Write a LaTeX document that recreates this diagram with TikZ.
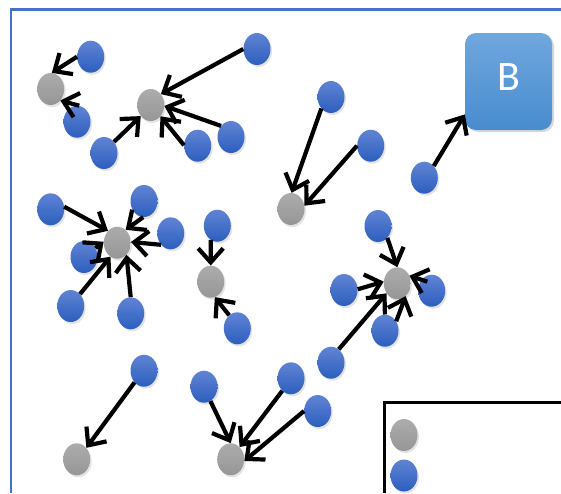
\documentclass[tikz,border=0pt]{standalone}
\usepackage{fontspec}
\setmainfont{Carlito}
\usetikzlibrary{shapes.geometric,arrows.meta,shadows}
\definecolor{frameblue}{RGB}{68,114,196}
\definecolor{bluetop}{RGB}{96,132,212}
\definecolor{bluebot}{RGB}{44,94,190}
\definecolor{greytop}{RGB}{172,172,172}
\definecolor{greybot}{RGB}{150,150,150}
\definecolor{boxtop}{RGB}{112,167,222}
\definecolor{boxbot}{RGB}{72,140,206}
\begin{document}
\begin{tikzpicture}[x=1pt,y=-1pt,
  dot/.style={ellipse,minimum width=27pt,minimum height=32pt,inner sep=0pt,
    drop shadow={shadow xshift=1.5pt,shadow yshift=-2pt,opacity=0.22}},
  bnode/.style={dot,top color=bluetop,bottom color=bluebot},
  gnode/.style={dot,top color=greytop,bottom color=greybot},
  bbox/.style={rectangle,rounded corners=11pt,minimum width=87pt,minimum height=97pt,
    inner sep=0pt,top color=boxtop,bottom color=boxbot,
    drop shadow={shadow xshift=2pt,shadow yshift=-2pt,opacity=0.3}},
  arr/.style={line width=4.2pt,-{Straight Barb[length=14pt,width=25pt]}},
]
\useasboundingbox (0,0) rectangle (561,493);
% frame
\draw[frameblue,line width=2.6pt] (11,493) -- (11,9.2) -- (561,9.2);
% legend box
\draw[black,line width=2.6pt] (384.3,493) -- (384.3,402.3) -- (561,402.3);

% grey nodes
\node[gnode] (g1) at (50.7,89) {};
\node[gnode] (g2) at (150.7,105) {};
\node[gnode] (g3) at (291,209) {};
\node[gnode] (g4) at (117.3,242.7) {};
\node[gnode] (g5) at (210.7,281.7) {};
\node[gnode] (g6) at (397.3,283.3) {};
\node[gnode] (g7) at (76.7,459.3) {};
\node[gnode] (g8) at (230.7,459.3) {};
% blue nodes
\node[bnode] (b1) at (90.7,56.7) {};
\node[bnode] (b2) at (77,121.7) {};
\node[bnode] (b3) at (257,49) {};
\node[bnode] (b4) at (104,153) {};
\node[bnode] (b5) at (197.7,145.7) {};
\node[bnode] (b6) at (231,137) {};
\node[bnode] (b7) at (331,97) {};
\node[bnode] (b8) at (370.7,145.7) {};
\node[bnode] (b9) at (424.3,177.7) {};
\node[bnode] (b10) at (378,226) {};
\node[bnode] (b11) at (50.7,209.3) {};
\node[bnode] (b12) at (144,201) {};
\node[bnode] (b13) at (170.7,233.3) {};
\node[bnode] (b14) at (84,257) {};
\node[bnode] (b15) at (70.7,306) {};
\node[bnode] (b16) at (130.7,313.3) {};
\node[bnode] (b17) at (217.3,225.7) {};
\node[bnode] (b18) at (237.3,328.3) {};
\node[bnode] (b19) at (344,290) {};
\node[bnode] (b20) at (431.7,290.7) {};
\node[bnode] (b21) at (385,330.7) {};
\node[bnode] (b22) at (331,362.7) {};
\node[bnode] (b23) at (291,378.3) {};
\node[bnode] (b24) at (317.7,411) {};
\node[bnode] (b25) at (144,370.7) {};
\node[bnode] (b26) at (204,386.7) {};
% legend symbols
\node[gnode] (lg) at (404,435) {};
\node[bnode] (lb) at (404,475.5) {};
% B box
\node[bbox,label={[text=white,font=\fontsize{42}{42}\selectfont,yshift=4.5pt]center:B}] (B) at (508.5,81.5) {};

% arrows
\draw[arr] (b1.180) -- (g1.86);
\draw[arr] (b2.82) -- (g1.-50);
\draw[arr] (b3.180) -- (g2.47);
\draw[arr] (b4.48) -- (g2.228);
\draw[arr] (b5.178) -- (g2.-49);
\draw[arr] (b6.132) -- (g2.-4);
\draw[arr] (b7.230) -- (g3.88);
\draw[arr] (b8.180) -- (g3.14);
\draw[arr] (b9.51) -- (B.217);
\draw[arr] (b10.-52) -- (g6.90);
\draw[arr] ([shift={(-4.4pt,9pt)}]b20.center) -- (g6.32);
\draw[arr] (b19.3) -- (g6.173);
\draw[arr] (b22.60) -- (g6.223);
\draw[arr] (b21.40) -- (g6.-57);
\draw[arr] (b11.11) -- (g4.128);
\draw[arr] (b12.-93) -- (g4.57);
\draw[arr] (b13.230) -- (g4.3);
\draw[arr] (b14.38) -- (g4.176);
\draw[arr] (b15.52) -- (g4.244);
\draw[arr] (b16.90) -- (g4.-53);
\draw[arr] (b17.245) -- (g5.90);
\draw[arr] (b18.122) -- (g5.-75);
\draw[arr] (b25.231) -- (g7.50);
\draw[arr] (b26.-66) -- (g8.90);
\draw[arr] (b23.235) -- (g8.54);
\draw[arr] (b24.180) -- (g8.-7);
\end{tikzpicture}
\end{document}
